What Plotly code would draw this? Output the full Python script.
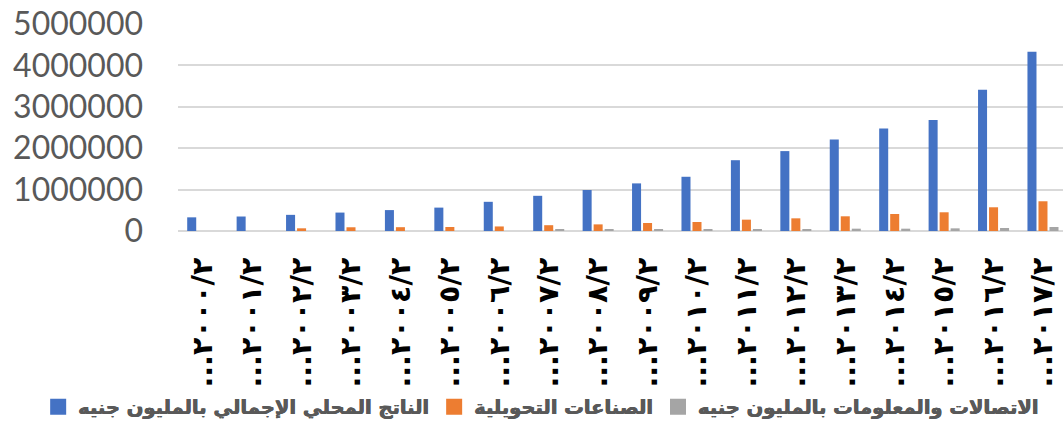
import plotly.graph_objects as go

# Fiscal years (Arabic-Indic digits)
years = [
    "٢٠٠٠/٢٠٠١", "٢٠٠١/٢٠٠٢", "٢٠٠٢/٢٠٠٣", "٢٠٠٣/٢٠٠٤", "٢٠٠٤/٢٠٠٥", "٢٠٠٥/٢٠٠٦",
    "٢٠٠٦/٢٠٠٧", "٢٠٠٧/٢٠٠٨", "٢٠٠٨/٢٠٠٩", "٢٠٠٩/٢٠١٠", "٢٠١٠/٢٠١١", "٢٠١١/٢٠١٢",
    "٢٠١٢/٢٠١٣", "٢٠١٣/٢٠١٤", "٢٠١٤/٢٠١٥", "٢٠١٥/٢٠١٦", "٢٠١٦/٢٠١٧", "٢٠١٧/٢٠١٨",
]

# Values in million EGP
gdp = [330000, 350000, 390000, 445000, 505000, 565000, 705000, 850000, 990000,
       1150000, 1310000, 1710000, 1930000, 2210000, 2475000, 2680000, 3410000, 4330000]
manufacturing = [None, None, 65000, 90000, 92000, 97000, 110000, 140000, 160000,
                 194000, 218000, 274000, 306000, 355000, 411000, 452000, 573000, 718000]
ict = [None, None, None, None, None, None, None, 35000, 38000,
       40000, 40000, 40000, 40000, 56000, 56000, 64000, 73000, 97000]

series_names = [
    "الناتج المحلي الإجمالي بالمليون جنيه",
    "الصناعات التحويلية",
    "الاتصالات والمعلومات بالمليون جنيه",
]
series_colors = ["#4472C4", "#ED7D31", "#A5A5A5"]

y_ticks = [0, 1000000, 2000000, 3000000, 4000000, 5000000]

# Long category labels overflow the narrow slots and get cut with an ellipsis
def clipped(label, keep=6):
    return "\u202d..." + label[:keep] + "\u202c"

x_pos = list(range(len(years)))

fig = go.Figure()
for name, vals, color in zip(series_names, [gdp, manufacturing, ict], series_colors):
    fig.add_trace(go.Bar(
        x=x_pos, y=vals, name=name, legendgroup=name, showlegend=False,
        marker=dict(color=color, line=dict(width=0)),
    ))
# Legend keys drawn as larger square swatches
for name, color in zip(series_names, series_colors):
    fig.add_trace(go.Scatter(
        x=[None], y=[None], mode="markers", name=name, legendgroup=name,
        marker=dict(symbol="square", size=16, color=color, line=dict(width=0)),
        hoverinfo="skip",
    ))

fig.update_layout(
    template="none",
    width=1063, height=421,
    margin=dict(l=178, r=0, t=24, b=190, autoexpand=False),
    paper_bgcolor="white", plot_bgcolor="white",
    barmode="group", bargap=0.332, bargroupgap=0.18,
    showlegend=True,
    legend=dict(
        orientation="h", x=-0.158, xanchor="left", y=-0.85, yanchor="middle",
        font=dict(family="DejaVu Sans", size=19.5, color="#595959", weight="bold",
                  shadow="0.4px 0 0 #595959, -0.4px 0 0 #595959"),
        bgcolor="rgba(0,0,0,0)", traceorder="normal", itemclick=False,
    ),
)

fig.update_xaxes(
    tickmode="array", tickvals=x_pos, ticktext=[clipped(t) for t in years],
    range=[-0.5, 17.405], tickangle=-90,
    tickfont=dict(family="DejaVu Sans", size=28.5, color="black", weight="bold"),
    showgrid=False, zeroline=False, showline=False, ticks="",
    ticklabelstandoff=20, automargin=False,
)

fig.update_yaxes(
    range=[0, 5000000], tickmode="array", tickvals=y_ticks, tickformat="d",
    tickfont=dict(family="Lato", size=32, color="#595959"),
    showgrid=True, gridcolor="#D9D9D9", gridwidth=1.5,
    zeroline=True, zerolinecolor="#D9D9D9", zerolinewidth=2,
    showline=False, ticks="", ticklabelstandoff=34, automargin=False,
)

fig.write_html("out.html")
